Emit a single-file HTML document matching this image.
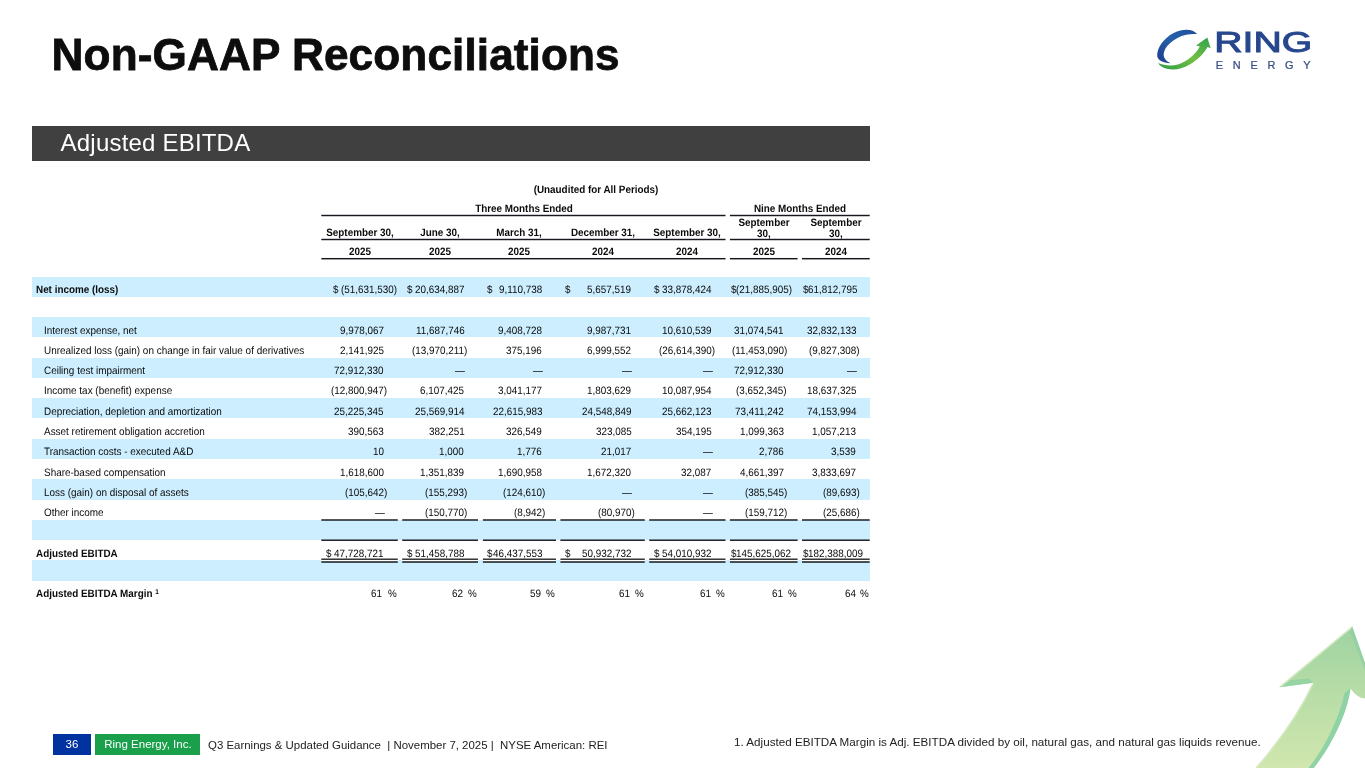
<!DOCTYPE html>
<html lang="en"><head><meta charset="utf-8"><title>Non-GAAP Reconciliations</title>
<style>
html,body{margin:0;padding:0;background:#fff}
body{width:1365px;height:768px;position:relative;overflow:hidden;font-family:"Liberation Sans",Arial,sans-serif;color:#111}
.t{position:absolute;white-space:nowrap;transform:matrix(1,0,0.0005,1.08,0,0);transform-origin:0 9px;font-size:9.9px;line-height:11px;color:#0a0a0a}
.b{font-weight:bold}
.l{font-size:9.95px}
.ln{position:absolute;background:#111}
.st{position:absolute;left:32px;width:837.7px;background:#cceeff}
#title{position:absolute;left:51.6px;top:26.6px;font-size:44.15px;font-weight:bold;line-height:56px;color:#0d0d0d;white-space:nowrap;letter-spacing:0.1px;-webkit-text-stroke:0.8px #0d0d0d}
#banner{position:absolute;left:32px;top:126px;width:837.7px;height:34.5px;background:#404040}
#banner span{position:absolute;left:28.6px;top:0;line-height:33.5px;font-size:24px;color:#fff;white-space:nowrap;letter-spacing:0.2px}
.fb{position:absolute;top:734.2px;height:21.1px;color:#fff;font-size:11.5px;line-height:21px;text-align:center}
#pg{left:52.7px;width:38.5px;background:#0033a0}
#co{left:95px;width:104.8px;text-indent:1px;background:#1a9f4b}
#ft{position:absolute;left:208px;top:738px;font-size:11.45px;line-height:14px;color:#222;white-space:pre}
#fn{position:absolute;left:734px;top:735px;font-size:11.66px;line-height:14px;color:#222;white-space:nowrap}
</style></head><body>
<div id="title">Non-GAAP Reconciliations</div>
<svg id="logo" style="position:absolute;left:1150px;top:20px" width="170" height="60" viewBox="0 0 1365 482">
<defs>
<linearGradient id="lgb" x1="0" y1="1" x2="1" y2="0"><stop offset="0" stop-color="#1d3c8f"/><stop offset="0.55" stop-color="#2560a8"/><stop offset="1" stop-color="#1f4e9a"/></linearGradient>
<linearGradient id="lgg" x1="0" y1="1" x2="1" y2="0"><stop offset="0" stop-color="#2c9c47"/><stop offset="0.5" stop-color="#74bf44"/><stop offset="1" stop-color="#2fa24a"/></linearGradient>
</defs>
<path fill="url(#lgb)" d="M378,113 C345,72 270,66 190,105 C110,145 52,230 58,292 C62,322 100,345 165,347 C135,335 105,310 110,270 C116,215 190,142 290,119 C320,112 350,110 378,113 Z"/>
<path fill="url(#lgg)" d="M65,345 C90,388 170,412 250,387 C340,357 420,292 462,216 L487,226 L460,140 L370,205 L400,212 C370,270 300,330 230,355 C170,372 110,365 65,345 Z"/>
<text x="516" y="258" font-family="Liberation Sans, Arial, sans-serif" font-weight="normal" font-size="235" fill="#27478d" stroke="#27478d" stroke-width="8" stroke-linejoin="miter" textLength="786" lengthAdjust="spacingAndGlyphs">RING</text>
<text x="528" y="395" font-family="Liberation Sans, Arial, sans-serif" font-size="88" fill="#3a4f86" stroke="#3a4f86" stroke-width="2" textLength="762" lengthAdjust="spacing">ENERGY</text>
</svg>
<div id="banner"><span>Adjusted EBITDA</span></div>
<div class="st" style="top:276.60px;height:20.27px"></div>
<div class="st" style="top:317.14px;height:20.27px"></div>
<div class="st" style="top:357.68px;height:20.27px"></div>
<div class="st" style="top:398.22px;height:20.27px"></div>
<div class="st" style="top:438.76px;height:20.27px"></div>
<div class="st" style="top:479.30px;height:20.27px"></div>
<div class="st" style="top:519.84px;height:20.27px"></div>
<div class="st" style="top:560.38px;height:20.27px"></div>
<div class="t b" style="top:184px;left:445.60px;width:300px;text-align:center;">(Unaudited for All Periods)</div>
<div class="t b" style="top:203px;left:373.70px;width:300px;text-align:center;">Three Months Ended</div>
<div class="t b" style="top:203px;left:649.80px;width:300px;text-align:center;">Nine Months Ended</div>
<div class="t b" style="top:227px;left:209.55px;width:300px;text-align:center;">September 30,</div>
<div class="t b" style="top:227px;left:290.10px;width:300px;text-align:center;">June 30,</div>
<div class="t b" style="top:227px;left:369.45px;width:300px;text-align:center;">March 31,</div>
<div class="t b" style="top:227px;left:452.60px;width:300px;text-align:center;">December 31,</div>
<div class="t b" style="top:227px;left:537.35px;width:300px;text-align:center;">September 30,</div>
<div class="t b" style="top:217px;left:613.75px;width:300px;text-align:center;">September</div>
<div class="t b" style="top:228px;left:613.75px;width:300px;text-align:center;">30,</div>
<div class="t b" style="top:217px;left:685.85px;width:300px;text-align:center;">September</div>
<div class="t b" style="top:228px;left:685.85px;width:300px;text-align:center;">30,</div>
<div class="t b" style="top:246px;left:209.55px;width:300px;text-align:center;">2025</div>
<div class="t b" style="top:246px;left:290.10px;width:300px;text-align:center;">2025</div>
<div class="t b" style="top:246px;left:369.45px;width:300px;text-align:center;">2025</div>
<div class="t b" style="top:246px;left:452.60px;width:300px;text-align:center;">2024</div>
<div class="t b" style="top:246px;left:537.35px;width:300px;text-align:center;">2024</div>
<div class="t b" style="top:246px;left:613.75px;width:300px;text-align:center;">2025</div>
<div class="t b" style="top:246px;left:685.85px;width:300px;text-align:center;">2024</div>
<div class="t b" style="top:284px;left:35.60px;">Net income (loss)</div>
<div class="t " style="top:284px;right:968.20px;">(51,631,530)</div>
<div class="t " style="top:284px;left:333.00px;">$</div>
<div class="t " style="top:284px;right:900.80px;">20,634,887</div>
<div class="t " style="top:284px;left:406.80px;">$</div>
<div class="t " style="top:284px;right:823.00px;">9,110,738</div>
<div class="t " style="top:284px;left:487.00px;">$</div>
<div class="t " style="top:284px;right:733.80px;">5,657,519</div>
<div class="t " style="top:284px;left:565.00px;">$</div>
<div class="t " style="top:284px;right:653.40px;">33,878,424</div>
<div class="t " style="top:284px;left:654.00px;">$</div>
<div class="t " style="top:284px;right:573.20px;">(21,885,905)</div>
<div class="t " style="top:284px;left:731.00px;">$</div>
<div class="t " style="top:284px;right:507.60px;">61,812,795</div>
<div class="t " style="top:284px;left:802.80px;">$</div>
<div class="t l" style="top:325px;left:43.70px;">Interest expense, net</div>
<div class="t " style="top:325px;right:981.10px;">9,978,067</div>
<div class="t " style="top:325px;right:900.80px;">11,687,746</div>
<div class="t " style="top:325px;right:823.00px;">9,408,728</div>
<div class="t " style="top:325px;right:733.80px;">9,987,731</div>
<div class="t " style="top:325px;right:653.40px;">10,610,539</div>
<div class="t " style="top:325px;right:581.50px;">31,074,541</div>
<div class="t " style="top:325px;right:508.80px;">32,832,133</div>
<div class="t l" style="top:345px;left:43.70px;">Unrealized loss (gain) on change in fair value of derivatives</div>
<div class="t " style="top:345px;right:981.10px;">2,141,925</div>
<div class="t " style="top:345px;right:897.50px;">(13,970,211)</div>
<div class="t " style="top:345px;right:823.00px;">375,196</div>
<div class="t " style="top:345px;right:733.80px;">6,999,552</div>
<div class="t " style="top:345px;right:650.10px;">(26,614,390)</div>
<div class="t " style="top:345px;right:578.20px;">(11,453,090)</div>
<div class="t " style="top:345px;right:505.50px;">(9,827,308)</div>
<div class="t l" style="top:365px;left:43.70px;">Ceiling test impairment</div>
<div class="t " style="top:365px;right:981.10px;">72,912,330</div>
<div class="t " style="top:365px;right:899.90px;">—</div>
<div class="t " style="top:365px;right:822.10px;">—</div>
<div class="t " style="top:365px;right:732.90px;">—</div>
<div class="t " style="top:365px;right:652.50px;">—</div>
<div class="t " style="top:365px;right:581.50px;">72,912,330</div>
<div class="t " style="top:365px;right:507.90px;">—</div>
<div class="t l" style="top:385px;left:43.70px;">Income tax (benefit) expense</div>
<div class="t " style="top:385px;right:977.80px;">(12,800,947)</div>
<div class="t " style="top:385px;right:900.80px;">6,107,425</div>
<div class="t " style="top:385px;right:823.00px;">3,041,177</div>
<div class="t " style="top:385px;right:733.80px;">1,803,629</div>
<div class="t " style="top:385px;right:653.40px;">10,087,954</div>
<div class="t " style="top:385px;right:578.20px;">(3,652,345)</div>
<div class="t " style="top:385px;right:508.80px;">18,637,325</div>
<div class="t l" style="top:406px;left:43.70px;">Depreciation, depletion and amortization</div>
<div class="t " style="top:406px;right:981.10px;">25,225,345</div>
<div class="t " style="top:406px;right:900.80px;">25,569,914</div>
<div class="t " style="top:406px;right:823.00px;">22,615,983</div>
<div class="t " style="top:406px;right:733.80px;">24,548,849</div>
<div class="t " style="top:406px;right:653.40px;">25,662,123</div>
<div class="t " style="top:406px;right:581.50px;">73,411,242</div>
<div class="t " style="top:406px;right:508.80px;">74,153,994</div>
<div class="t l" style="top:426px;left:43.70px;">Asset retirement obligation accretion</div>
<div class="t " style="top:426px;right:981.10px;">390,563</div>
<div class="t " style="top:426px;right:900.80px;">382,251</div>
<div class="t " style="top:426px;right:823.00px;">326,549</div>
<div class="t " style="top:426px;right:733.80px;">323,085</div>
<div class="t " style="top:426px;right:653.40px;">354,195</div>
<div class="t " style="top:426px;right:581.50px;">1,099,363</div>
<div class="t " style="top:426px;right:508.80px;">1,057,213</div>
<div class="t l" style="top:446px;left:43.70px;">Transaction costs - executed A&amp;D</div>
<div class="t " style="top:446px;right:981.10px;">10</div>
<div class="t " style="top:446px;right:900.80px;">1,000</div>
<div class="t " style="top:446px;right:823.00px;">1,776</div>
<div class="t " style="top:446px;right:733.80px;">21,017</div>
<div class="t " style="top:446px;right:652.50px;">—</div>
<div class="t " style="top:446px;right:581.50px;">2,786</div>
<div class="t " style="top:446px;right:508.80px;">3,539</div>
<div class="t l" style="top:467px;left:43.70px;">Share-based compensation</div>
<div class="t " style="top:467px;right:981.10px;">1,618,600</div>
<div class="t " style="top:467px;right:900.80px;">1,351,839</div>
<div class="t " style="top:467px;right:823.00px;">1,690,958</div>
<div class="t " style="top:467px;right:733.80px;">1,672,320</div>
<div class="t " style="top:467px;right:653.40px;">32,087</div>
<div class="t " style="top:467px;right:581.50px;">4,661,397</div>
<div class="t " style="top:467px;right:508.80px;">3,833,697</div>
<div class="t l" style="top:487px;left:43.70px;">Loss (gain) on disposal of assets</div>
<div class="t " style="top:487px;right:977.80px;">(105,642)</div>
<div class="t " style="top:487px;right:897.50px;">(155,293)</div>
<div class="t " style="top:487px;right:819.70px;">(124,610)</div>
<div class="t " style="top:487px;right:732.90px;">—</div>
<div class="t " style="top:487px;right:652.50px;">—</div>
<div class="t " style="top:487px;right:578.20px;">(385,545)</div>
<div class="t " style="top:487px;right:505.50px;">(89,693)</div>
<div class="t l" style="top:507px;left:43.70px;">Other income</div>
<div class="t " style="top:507px;right:980.20px;">—</div>
<div class="t " style="top:507px;right:897.50px;">(150,770)</div>
<div class="t " style="top:507px;right:819.70px;">(8,942)</div>
<div class="t " style="top:507px;right:730.50px;">(80,970)</div>
<div class="t " style="top:507px;right:652.50px;">—</div>
<div class="t " style="top:507px;right:578.20px;">(159,712)</div>
<div class="t " style="top:507px;right:505.50px;">(25,686)</div>
<div class="t b" style="top:548px;left:35.60px;">Adjusted EBITDA</div>
<div class="t " style="top:548px;right:981.10px;">47,728,721</div>
<div class="t " style="top:548px;left:326.00px;">$</div>
<div class="t " style="top:548px;right:900.80px;">51,458,788</div>
<div class="t " style="top:548px;left:407.00px;">$</div>
<div class="t " style="top:548px;right:823.00px;">46,437,553</div>
<div class="t " style="top:548px;left:487.00px;">$</div>
<div class="t " style="top:548px;right:733.80px;">50,932,732</div>
<div class="t " style="top:548px;left:565.00px;">$</div>
<div class="t " style="top:548px;right:653.40px;">54,010,932</div>
<div class="t " style="top:548px;left:654.00px;">$</div>
<div class="t " style="top:548px;right:574.00px;">145,625,062</div>
<div class="t " style="top:548px;left:731.00px;">$</div>
<div class="t " style="top:548px;right:502.00px;">182,388,009</div>
<div class="t " style="top:548px;left:803.00px;">$</div>
<div class="t b" style="top:588px;left:35.60px;">Adjusted EBITDA Margin <span style="font-size:6.5px;position:relative;top:-3px">1</span></div>
<div class="t " style="top:588px;right:983.00px;">61</div>
<div class="t " style="top:588px;right:968.70px;">%</div>
<div class="t " style="top:588px;right:902.00px;">62</div>
<div class="t " style="top:588px;right:887.80px;">%</div>
<div class="t " style="top:588px;right:824.50px;">59</div>
<div class="t " style="top:588px;right:810.20px;">%</div>
<div class="t " style="top:588px;right:735.00px;">61</div>
<div class="t " style="top:588px;right:721.00px;">%</div>
<div class="t " style="top:588px;right:654.50px;">61</div>
<div class="t " style="top:588px;right:640.50px;">%</div>
<div class="t " style="top:588px;right:582.00px;">61</div>
<div class="t " style="top:588px;right:568.20px;">%</div>
<div class="t " style="top:588px;right:509.50px;">64</div>
<div class="t " style="top:588px;right:495.80px;">%</div>
<svg style="position:absolute;left:0;top:0" width="1365" height="768" fill="#15181c"><rect x="321.30" y="214.78" width="404.20" height="1.45"/><rect x="729.90" y="214.78" width="139.80" height="1.45"/><rect x="321.30" y="238.78" width="404.20" height="1.45"/><rect x="729.90" y="238.78" width="139.80" height="1.45"/><rect x="321.30" y="257.97" width="404.20" height="1.45"/><rect x="729.90" y="257.97" width="67.70" height="1.45"/><rect x="802.00" y="257.97" width="67.70" height="1.45"/><rect x="321.30" y="559.20" width="76.50" height="2.80" fill="#fff"/><rect x="321.30" y="519.27" width="76.50" height="1.45"/><rect x="321.30" y="539.48" width="76.50" height="1.45"/><rect x="321.30" y="558.55" width="76.50" height="1.3"/><rect x="321.30" y="561.25" width="76.50" height="1.5"/><rect x="402.20" y="559.20" width="75.80" height="2.80" fill="#fff"/><rect x="402.20" y="519.27" width="75.80" height="1.45"/><rect x="402.20" y="539.48" width="75.80" height="1.45"/><rect x="402.20" y="558.55" width="75.80" height="1.3"/><rect x="402.20" y="561.25" width="75.80" height="1.5"/><rect x="482.90" y="559.20" width="73.10" height="2.80" fill="#fff"/><rect x="482.90" y="519.27" width="73.10" height="1.45"/><rect x="482.90" y="539.48" width="73.10" height="1.45"/><rect x="482.90" y="558.55" width="73.10" height="1.3"/><rect x="482.90" y="561.25" width="73.10" height="1.5"/><rect x="560.40" y="559.20" width="84.40" height="2.80" fill="#fff"/><rect x="560.40" y="519.27" width="84.40" height="1.45"/><rect x="560.40" y="539.48" width="84.40" height="1.45"/><rect x="560.40" y="558.55" width="84.40" height="1.3"/><rect x="560.40" y="561.25" width="84.40" height="1.5"/><rect x="649.20" y="559.20" width="76.30" height="2.80" fill="#fff"/><rect x="649.20" y="519.27" width="76.30" height="1.45"/><rect x="649.20" y="539.48" width="76.30" height="1.45"/><rect x="649.20" y="558.55" width="76.30" height="1.3"/><rect x="649.20" y="561.25" width="76.30" height="1.5"/><rect x="729.90" y="559.20" width="67.70" height="2.80" fill="#fff"/><rect x="729.90" y="519.27" width="67.70" height="1.45"/><rect x="729.90" y="539.48" width="67.70" height="1.45"/><rect x="729.90" y="558.55" width="67.70" height="1.3"/><rect x="729.90" y="561.25" width="67.70" height="1.5"/><rect x="802.00" y="559.20" width="67.70" height="2.80" fill="#fff"/><rect x="802.00" y="519.27" width="67.70" height="1.45"/><rect x="802.00" y="539.48" width="67.70" height="1.45"/><rect x="802.00" y="558.55" width="67.70" height="1.3"/><rect x="802.00" y="561.25" width="67.70" height="1.5"/></svg>
<svg id="arrow" style="position:absolute;left:1225px;top:608px" width="140" height="160" viewBox="1225 608 140 160">
<defs>
<linearGradient id="ag" x1="0" y1="626" x2="0" y2="768" gradientUnits="userSpaceOnUse"><stop offset="0" stop-color="#9dd3a2"/><stop offset="0.5" stop-color="#b9dda7"/><stop offset="1" stop-color="#d0e7ae"/></linearGradient>
</defs>
<path fill="url(#ag)" d="M1352.2,626.5 L1279.3,687.3 L1313.5,682.8 C1303.5,703.5 1285,734 1255.4,768 L1313.75,768 C1330,748 1347,715 1350.5,688.5 Q1357,698 1365,698.5 L1365,663 Z"/>
<path fill="#8fd2a6" d="M1350.5,688.5 C1347,715 1330,748 1313.75,768 L1308.5,768 C1325,748 1340,716 1344.5,693 Z"/>
<path fill="#97d4a4" d="M1279.3,687.3 L1313.5,682.8 L1309,678.5 L1291,680 Z"/>
<path fill="#8fcfa3" d="M1352.2,626.5 L1365,663 L1365,670 L1350,632 Z" opacity="0.7"/>
<path fill="none" stroke="#d3eac2" stroke-width="1.6" d="M1351,628 L1281,686.2"/>
<path fill="none" stroke="#d3eac2" stroke-width="1.6" d="M1312.8,684 C1303.5,704 1285.6,734 1256.4,768"/>
</svg>
<div id="pg" class="fb">36</div><div id="co" class="fb">Ring Energy, Inc.</div>
<div id="ft">Q3 Earnings &amp; Updated Guidance  | November 7, 2025 |  NYSE American: REI</div>
<div id="fn">1. Adjusted EBITDA Margin is Adj. EBITDA divided by oil, natural gas, and natural gas liquids revenue.</div>
</body></html>
